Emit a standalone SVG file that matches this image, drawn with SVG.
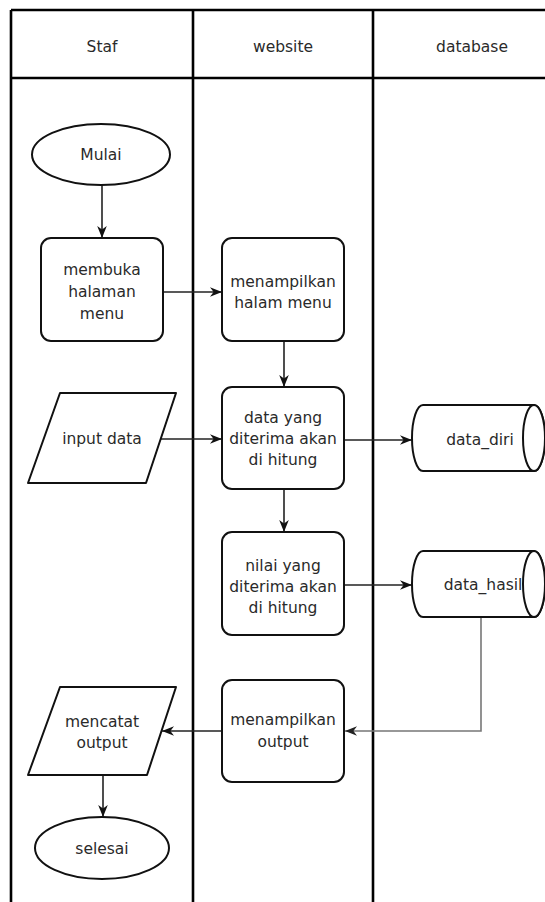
<svg xmlns="http://www.w3.org/2000/svg" width="545" height="902" viewBox="0 0 545 902">
  <defs>
    <marker id="arrow" viewBox="0 0 10 8" refX="10" refY="4" markerWidth="12" markerHeight="10" markerUnits="userSpaceOnUse" orient="auto">
      <path d="M0,0 L10,4 L0,8 L3,4 Z" fill="#111"/>
    </marker>
    <marker id="arrow-gray" viewBox="0 0 10 8" refX="10" refY="4" markerWidth="12" markerHeight="10" markerUnits="userSpaceOnUse" orient="auto">
      <path d="M0,0 L10,4 L0,8 L3,4 Z" fill="#222"/>
    </marker>
  </defs>
  <style>
    .lane { stroke: #000; stroke-width: 2.6; fill: none; }
    .shape { fill: #fff; stroke: #111; stroke-width: 2; }
    .label { font-family: "DejaVu Sans", Verdana, sans-serif; font-size: 15.5px; fill: #2a2a2a; text-anchor: middle; }
    .edge { fill: none; stroke: #222; stroke-width: 1.6; marker-end: url(#arrow); }
    .edge-gray { fill: none; stroke: #777; stroke-width: 1.6; marker-end: url(#arrow-gray); }
  </style>

  <rect width="545" height="902" fill="#fff"/>

  <!-- swimlane grid -->
  <g id="lanes">
    <line class="lane" x1="11" y1="10" x2="545" y2="10"/>
    <line class="lane" x1="11" y1="78" x2="545" y2="78"/>
    <line class="lane" x1="11" y1="10" x2="11" y2="902"/>
    <line class="lane" x1="193" y1="10" x2="193" y2="902"/>
    <line class="lane" x1="373" y1="10" x2="373" y2="902"/>
    <text class="label" x="102" y="52">Staf</text>
    <text class="label" x="283" y="52">website</text>
    <text class="label" x="472" y="52">database</text>
  </g>

  <!-- connectors -->
  <g id="connectors">
    <line class="edge" x1="102" y1="185" x2="102" y2="238"/>
    <line class="edge" x1="163" y1="292" x2="222" y2="292"/>
    <line class="edge" x1="284" y1="341" x2="284" y2="387"/>
    <line class="edge" x1="161" y1="439" x2="222" y2="439"/>
    <line class="edge" x1="345" y1="440" x2="412" y2="440"/>
    <line class="edge" x1="284" y1="489" x2="284" y2="532"/>
    <line class="edge" x1="345" y1="585" x2="412" y2="585"/>
    <polyline class="edge-gray" points="481,617 481,731 345,731"/>
    <line class="edge" x1="222" y1="731" x2="162" y2="731"/>
    <line class="edge" x1="103" y1="775" x2="103" y2="817"/>
  </g>

  <g id="mulai">
    <ellipse class="shape" cx="101" cy="154.5" rx="69" ry="30.5"/>
    <text class="label" x="101" y="160">Mulai</text>
  </g>

  <g id="membuka">
    <rect class="shape" x="41" y="238" width="122" height="103" rx="10"/>
    <text class="label" x="102" y="275">membuka</text>
    <text class="label" x="102" y="297">halaman</text>
    <text class="label" x="102" y="319">menu</text>
  </g>

  <g id="menampilkan-menu">
    <rect class="shape" x="222" y="238" width="122" height="103" rx="10"/>
    <text class="label" x="283" y="287">menampilkan</text>
    <text class="label" x="283" y="308">halam menu</text>
  </g>

  <g id="input-data">
    <path class="shape" stroke-linejoin="round" d="M60,393 L176,393 L146,483 L28,483 Z"/>
    <text class="label" x="102" y="444">input data</text>
  </g>

  <g id="data-diterima">
    <rect class="shape" x="222" y="387" width="122" height="102" rx="10"/>
    <text class="label" x="283" y="423">data yang</text>
    <text class="label" x="283" y="444">diterima akan</text>
    <text class="label" x="283" y="465">di hitung</text>
  </g>

  <g id="data-diri">
    <path class="shape" d="M423,405 L534,405 A11,33 0 0 1 534,471 L423,471 A11,33 0 0 1 423,405 Z"/>
    <text class="label" x="480" y="445">data_diri</text>
    <ellipse class="shape" cx="534" cy="438" rx="11" ry="33"/>
  </g>

  <g id="nilai-diterima">
    <rect class="shape" x="222" y="532" width="122" height="103" rx="10"/>
    <text class="label" x="283" y="571">nilai yang</text>
    <text class="label" x="283" y="592">diterima akan</text>
    <text class="label" x="283" y="613">di hitung</text>
  </g>

  <g id="data-hasil">
    <path class="shape" d="M423,551 L534,551 A11,33 0 0 1 534,617 L423,617 A11,33 0 0 1 423,551 Z"/>
    <text class="label" x="483" y="590">data_hasil</text>
    <ellipse class="shape" cx="534" cy="584" rx="11" ry="33"/>
  </g>

  <g id="menampilkan-output">
    <rect class="shape" x="222" y="680" width="122" height="102" rx="10"/>
    <text class="label" x="283" y="725">menampilkan</text>
    <text class="label" x="283" y="747">output</text>
  </g>

  <g id="mencatat-output">
    <path class="shape" stroke-linejoin="round" d="M60,687 L176,687 L147,775 L28,775 Z"/>
    <text class="label" x="102" y="727">mencatat</text>
    <text class="label" x="102" y="748">output</text>
  </g>

  <g id="selesai">
    <ellipse class="shape" cx="102" cy="848" rx="67" ry="31"/>
    <text class="label" x="102" y="854">selesai</text>
  </g>
</svg>
